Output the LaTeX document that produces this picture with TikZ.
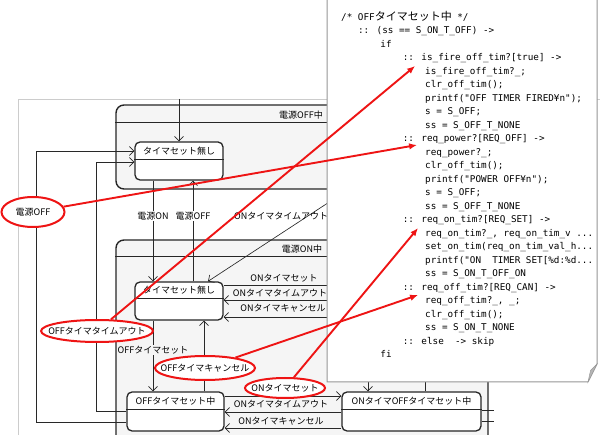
\documentclass[tikz,border=0pt]{standalone}
\usepackage{fontspec}
\setmainfont{Noto Sans CJK JP}
\newfontfamily\jpfont{Noto Sans CJK JP}
\newfontfamily\codefont{DejaVu Sans Mono}
\usetikzlibrary{arrows.meta,shapes.geometric,positioning}
\definecolor{linegray}{RGB}{40,40,40}
\definecolor{regionfill}{RGB}{245,245,245}
\definecolor{notegray}{RGB}{150,150,150}
\definecolor{markred}{RGB}{238,20,20}
\newcommand{\jp}[1]{{\jpfont\fontsize{11}{12}\selectfont #1}}
\newcommand{\codeline}[3]{\node[codetext] (code#1) at ({341+5.6*#2},{20.5+13.5*#1}) {#3};}

\begin{document}
\begin{tikzpicture}[x=1pt, y=-1pt, font=\fontsize{9}{10}\selectfont,
    >={Straight Barb[length=4.5pt,width=9pt]},
    trans/.style={draw=linegray, line width=0.65pt},
    region/.style={draw=black!85, line width=1.4pt, fill=regionfill, rounded corners=8pt},
    stbox/.style={draw=black!85, line width=1.3pt, fill=white, rounded corners=5pt},
    divider/.style={draw=black!85, line width=0.8pt},
    stname/.style={inner sep=0pt},
    tlabel/.style={inner sep=1pt},
    codetext/.style={anchor=base west, inner sep=0pt, font=\codefont\fontsize{9.3}{11}\selectfont},
    redring/.style={ellipse, draw=markred, line width=2pt, fill=white, inner sep=0pt},
    redarrow/.style={draw=markred, line width=1.9pt, -{Latex[length=8pt,width=6.5pt]}}]

  \useasboundingbox (0,0) rectangle (600,435);
  \clip (0,0) rectangle (600,435);
  \draw[black!20] (18,99) rectangle (640,470);

  % composite states
  \node[region, minimum width=372, minimum height=84] (poweroff) at (302,147) {};
  \draw[divider, line width=1.2pt] ([yshift=-18]poweroff.north west) -- ([yshift=-18]poweroff.north east);
  \node (poweroff-t) at (301,115) {電源OFF中};

  \node[region, minimum width=372, minimum height=240] (poweron) at (302,360) {};
  \draw[divider, line width=1.2pt] ([yshift=-17]poweron.north west) -- ([yshift=-17]poweron.north east);
  \node (poweron-t) at (302,249) {電源ON中};

  % states
  \node[stbox, minimum width=88, minimum height=38] (offidle) at (179,161) {};
  \node[stname] (offidle-t) at ([yshift=-9.5]offidle.north) {タイマセット無し};
  \draw[divider] ([yshift=-18]offidle.north west) -- ([yshift=-18]offidle.north east);

  \node[stbox, minimum width=88, minimum height=38] (onidle) at (179,301) {};
  \node[stname] (onidle-t) at ([yshift=-9]onidle.north) {タイマセット無し};
  \draw[divider] ([yshift=-17]onidle.north west) -- ([yshift=-17]onidle.north east);

  \node[stbox, minimum width=97, minimum height=39] (offtimer) at (175.5,411.5) {};
  \node[stname] (offtimer-t) at ([yshift=-9.5]offtimer.north) {OFFタイマセット中};
  \draw[divider] ([yshift=-18]offtimer.north west) -- ([yshift=-18]offtimer.north east);

  \node[stbox, minimum width=139, minimum height=39] (onoff) at (411.5,411.5) {};
  \node[stname] (onoff-t) at ([yshift=-9.5]onoff.north) {ONタイマOFFタイマセット中};
  \draw[divider] ([yshift=-18]onoff.north west) -- ([yshift=-18]onoff.north east);

  % transitions
  \coordinate (init) at (179,99);
  \draw[trans,->] (init) -- (offidle);

  \draw[trans,->] ([xshift=-26]offidle.south) -- ([xshift=-26]onidle.north);
  \draw[trans,->] ([xshift=14]onidle.north) -- ([xshift=14]offidle.south);
  \node[tlabel, fill=white] (lbl-on) at (153,216) {電源ON};
  \node[tlabel, fill=white] (lbl-off) at (193,216) {電源OFF};

  \coordinate (ontoOff) at (340,195);
  \draw[trans,->] (ontoOff) -- ([xshift=29]onidle.north);
  \node[tlabel, anchor=west] (lbl-onto1) at (233,216) {ONタイマタイムアウト};

  \coordinate (onsetR) at (335,285);
  \coordinate (ontoR) at (335,300);
  \coordinate (oncanR) at (335,317);
  \draw[trans] ([yshift=16]onidle.east) -- (onsetR);
  \draw[trans,->] (ontoR) -- ([yshift=1]onidle.east);
  \draw[trans,->] (oncanR) -- ([yshift=-16]onidle.east);
  \node[tlabel] (lbl-onset1) at (284,278) {ONタイマセット};
  \node[tlabel] (lbl-onto2) at (280,293) {ONタイマタイムアウト};
  \node[tlabel] (lbl-oncan1) at (283,308) {ONタイマキャンセル};

  \draw[trans,->] ([xshift=-26]onidle.south) -- ([xshift=-22.5]offtimer.north);
  \draw[trans,->] ([xshift=28.5]offtimer.north) -- ([xshift=25]onidle.south);
  \node[tlabel, fill=regionfill] (lbl-offset) at (153,350) {OFFタイマセット};

  \draw[trans,->] ([yshift=-10.5]offtimer.west) -| (36,151) -- ([yshift=10]offidle.west);
  \draw[trans,->] ([yshift=0.5]offtimer.west) -| (96,162) -- ([yshift=-1]offidle.west);

  \draw[trans,->] ([yshift=15.5]offtimer.east) -- ([yshift=15.5]onoff.west);
  \draw[trans,->] ([yshift=-0.5]onoff.west) -- ([yshift=-0.5]offtimer.east);
  \draw[trans,->] ([yshift=-16.5]onoff.west) -- ([yshift=-16.5]offtimer.east);
  \node[tlabel] (lbl-onto3) at (281,404) {ONタイマタイムアウト};
  \node[tlabel] (lbl-oncan2) at (281,421) {ONタイマキャンセル};

  \coordinate (onoffIn) at (368,375);
  \coordinate (onoffOut) at (425,375);
  \draw[trans,->] (onoffIn) -- ([xshift=-43.5]onoff.north);
  \draw[trans] ([xshift=13.5]onoff.north) -- (onoffOut);
  \coordinate (onoffR1) at (494,410);
  \coordinate (onoffR2) at (494,421);
  \draw[trans] ([yshift=1.5]onoff.east) -- (onoffR1);
  \draw[trans] ([yshift=-9.5]onoff.east) -- (onoffR2);

  % note with the Promela code
  \draw[notegray, line width=1pt, fill=white] (327,-3) -- (597,-3) -- (597,364) -- (588,382) -- (327,382) -- cycle;
  \draw[notegray, fill=notegray!70] (588,382) -- (590.5,370.5) -- (597,364) -- cycle;

  \codeline{0}{0}{/* OFF\jp{タイマセット中} */}
  \codeline{1}{3}{:: (ss == S\_ON\_T\_OFF) ->}
  \codeline{2}{7}{if}
  \codeline{3}{11}{:: is\_fire\_off\_tim?[true] ->}
  \codeline{4}{15}{is\_fire\_off\_tim?\_;}
  \codeline{5}{15}{clr\_off\_tim();}
  \codeline{6}{15}{printf("OFF TIMER FIRED¥n");}
  \codeline{7}{15}{s = S\_OFF;}
  \codeline{8}{15}{ss = S\_OFF\_T\_NONE}
  \codeline{9}{11}{:: req\_power?[REQ\_OFF] ->}
  \codeline{10}{15}{req\_power?\_;}
  \codeline{11}{15}{clr\_off\_tim();}
  \codeline{12}{15}{printf("POWER OFF¥n");}
  \codeline{13}{15}{s = S\_OFF;}
  \codeline{14}{15}{ss = S\_OFF\_T\_NONE}
  \codeline{15}{11}{:: req\_on\_tim?[REQ\_SET] ->}
  \codeline{16}{15}{req\_on\_tim?\_, req\_on\_tim\_v ...}
  \codeline{17}{15}{set\_on\_tim(req\_on\_tim\_val\_h...}
  \codeline{18}{15}{printf("ON~~TIMER SET[\%d:\%d...}
  \codeline{19}{15}{ss = S\_ON\_T\_OFF\_ON}
  \codeline{20}{11}{:: req\_off\_tim?[REQ\_CAN] ->}
  \codeline{21}{15}{req\_off\_tim?\_, \_;}
  \codeline{22}{15}{clr\_off\_tim();}
  \codeline{23}{15}{ss = S\_ON\_T\_NONE}
  \codeline{24}{11}{:: else~~-> skip}
  \codeline{25}{7}{fi}

  % red marks
  \node[redring, minimum width=63, minimum height=30, label=center:{電源OFF}] (mk-poweroff) at (33,212) {};
  \node[redring, minimum width=112, minimum height=22, label=center:{OFFタイマタイムアウト}] (mk-offto) at (97,331) {};
  \node[redring, minimum width=100, minimum height=24, label=center:{OFFタイマキャンセル}] (mk-offcan) at (205,368) {};
  \node[redring, minimum width=80, minimum height=20, label=center:{ONタイマセット}] (mk-onset) at (285,388) {};

  \draw[redarrow] (mk-poweroff) -- ([xshift=14.5,yshift=-3]code9.base west);
  \draw[redarrow] (mk-offto) -- ([xshift=12.5,yshift=-5]code3.base west);
  \draw[redarrow] (mk-offcan) -- ([xshift=15.5,yshift=-4.5]code20.base west);
  \draw[redarrow] (mk-onset) -- ([xshift=15.5,yshift=-5]code15.base west);
\end{tikzpicture}
\end{document}
